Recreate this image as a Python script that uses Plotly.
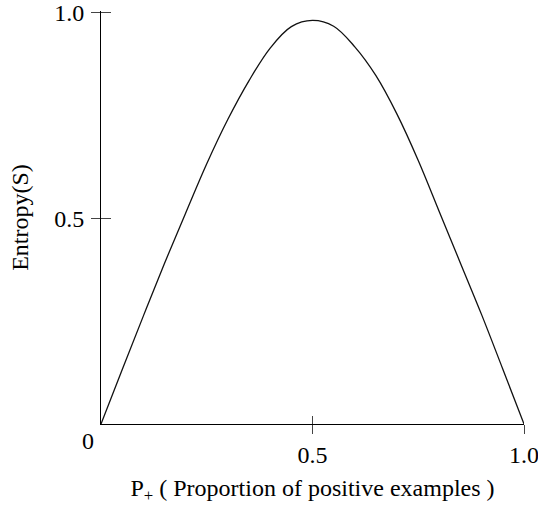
import plotly.graph_objects as go

# Entropy of a two-class sample as a function of the positive proportion
p_pos = [0.0, 0.05, 0.10, 0.15, 0.20, 0.25, 0.30, 0.35, 0.40, 0.45, 0.50,
         0.55, 0.60, 0.65, 0.70, 0.75, 0.80, 0.85, 0.90, 0.95, 1.0]
entropy = [0.0, 0.132, 0.262, 0.390, 0.512, 0.632, 0.740, 0.834, 0.913, 0.965, 0.980,
           0.966, 0.916, 0.846, 0.752, 0.640, 0.515, 0.390, 0.265, 0.133, 0.0]

x_ticks = [0.5, 1.0]
x_ticklabels = ["0.5", "1.0"]
y_ticks = [0.5, 1.0]
y_ticklabels = ["0.5", "1.0"]

FONT = "Liberation Serif, Times New Roman, serif"
FSIZE = 24

fig = go.Figure()
fig.add_trace(go.Scatter(
    x=p_pos, y=entropy, mode="lines",
    line=dict(color="#111111", width=1.3, shape="spline", smoothing=1.0),
    hoverinfo="skip", showlegend=False,
))
# empty trace so the overlay axes (inner half of the crossing ticks) get drawn
fig.add_trace(go.Scatter(x=[], y=[], xaxis="x2", yaxis="y2", showlegend=False))

fig.update_layout(
    width=538, height=518,
    margin=dict(l=101, r=14, t=11, b=94),
    paper_bgcolor="white", plot_bgcolor="white",
    font=dict(family=FONT, size=FSIZE, color="black"),
    xaxis=dict(
        showgrid=False, zeroline=False, range=[0, 1.0], fixedrange=True,
        automargin=False,
        showline=True, linecolor="black", linewidth=1,
        tickmode="array", tickvals=x_ticks, ticktext=x_ticklabels,
        ticks="outside", ticklen=9, tickwidth=1, tickcolor="#444444",
        ticklabelstandoff=0, ticklabeloverflow="allow",
        title=dict(text="P<sub>+</sub> ( Proportion of positive examples )",
                   standoff=12, font=dict(size=FSIZE)),
    ),
    yaxis=dict(
        showgrid=False, zeroline=False, range=[0, 1.003], fixedrange=True,
        automargin=False,
        showline=True, linecolor="black", linewidth=1,
        tickmode="array", tickvals=y_ticks, ticktext=y_ticklabels,
        ticks="outside", ticklen=9, tickwidth=1, tickcolor="#444444",
        ticklabelstandoff=2, ticklabeloverflow="allow",
        title=dict(text="Entropy(S)", standoff=18, font=dict(size=FSIZE)),
    ),
    xaxis2=dict(
        showgrid=False, zeroline=False, fixedrange=True, automargin=False,
        overlaying="x", matches="x", anchor="y2",
        tickmode="array", tickvals=x_ticks, showticklabels=False,
        ticks="inside", ticklen=8, tickwidth=1, tickcolor="#444444",
        showline=False,
    ),
    yaxis2=dict(
        showgrid=False, zeroline=False, fixedrange=True, automargin=False,
        overlaying="y", matches="y", anchor="x2",
        tickmode="array", tickvals=y_ticks, showticklabels=False,
        ticks="inside", ticklen=10, tickwidth=1, tickcolor="#444444",
        showline=False,
    ),
    annotations=[dict(
        x=0, y=0, xref="x", yref="y", text="0", showarrow=False,
        xshift=-13, yshift=-17, font=dict(family=FONT, size=FSIZE, color="black"),
    )],
)

fig.write_html("out.html")
